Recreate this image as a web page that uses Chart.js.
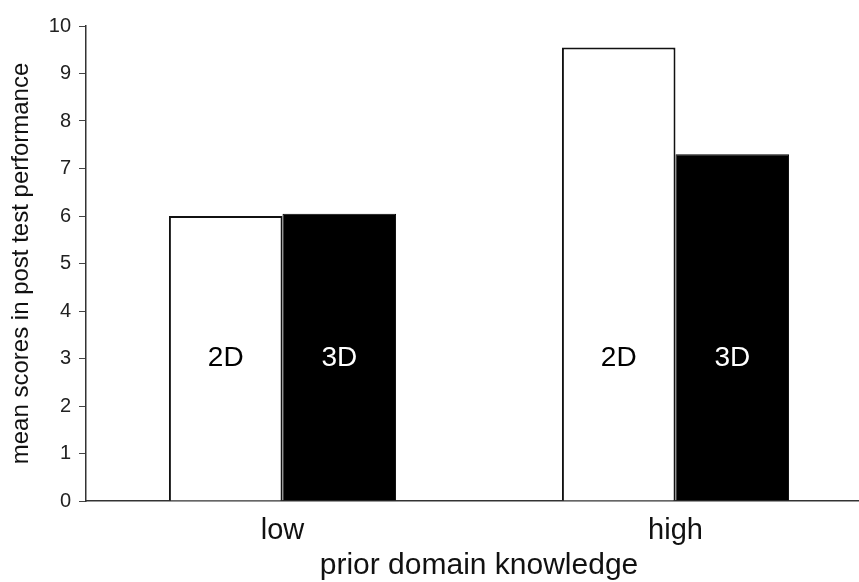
<!DOCTYPE html>
<html>
<head>
<meta charset="utf-8">
<script src="https://cdn.jsdelivr.net/npm/chart.js@4/dist/chart.umd.min.js"></script>
<style>
  html, body { margin: 0; padding: 0; background: #fff; overflow: hidden; }
  #wrap { width: 859px; height: 582px; overflow: hidden; position: relative; }
  #c { position: absolute; left: 0; top: 0; }
</style>
</head>
<body>
<div id="wrap"><canvas id="c" width="872" height="582"></canvas></div>
<script>
const categories = ["low", "high"];
const series2D = [6.0, 9.55];
const series3D = [6.05, 7.3];
const seriesNames = ["2D", "3D"];
const labelAt = 3; // value height where the 2D / 3D text sits
const yTicks = [0, 1, 2, 3, 4, 5, 6, 7, 8, 9, 10];

const font = "'Liberation Sans', Arial, sans-serif";

// writes 2D / 3D inside the bars
const barText = {
  id: "barText",
  afterDatasetsDraw(chart) {
    const ctx = chart.ctx;
    const y = chart.scales.y.getPixelForValue(labelAt);
    ctx.save();
    ctx.font = "28px " + font;
    ctx.textAlign = "center";
    ctx.textBaseline = "middle";
    chart.data.datasets.forEach((ds, i) => {
      chart.getDatasetMeta(i).data.forEach(bar => {
        ctx.fillStyle = i === 0 ? "#000" : "#fff";
        ctx.fillText(ds.label, bar.x, y);
      });
    });
    ctx.restore();
  }
};

new Chart(document.getElementById("c"), {
  type: "bar",
  data: {
    labels: categories,
    datasets: [
      {
        label: seriesNames[0],
        data: series2D,
        backgroundColor: "#fff",
        borderColor: "#111",
        borderWidth: 2,
        categoryPercentage: 0.578,
        barPercentage: 1
      },
      {
        label: seriesNames[1],
        data: series3D,
        backgroundColor: "#000",
        borderColor: "#000",
        borderWidth: 1,
        categoryPercentage: 0.578,
        barPercentage: 1
      }
    ]
  },
  options: {
    responsive: false,
    animation: false,
    layout: { padding: { top: 26, right: 0, left: 0, bottom: 0 } },
    plugins: { legend: { display: false }, tooltip: { enabled: false } },
    scales: {
      x: {
        grid: { display: true, drawOnChartArea: false, drawTicks: false },
        border: { display: true, color: "#333", width: 1.5 },
        ticks: { color: "#111", padding: 13, font: { family: font, size: 29 } },
        title: {
          display: true,
          text: "prior domain knowledge",
          color: "#111",
          font: { family: font, size: 30, lineHeight: 1 },
          padding: { top: 0, bottom: 1 }
        },
        afterFit(scale) { scale.height = 81; }
      },
      y: {
        min: 0,
        max: 10,
        afterBuildTicks(scale) { scale.ticks = yTicks.map(v => ({ value: v })); },
        grid: { display: true, drawOnChartArea: false, drawTicks: true, tickLength: 7, tickColor: "#444" },
        border: { display: true, color: "#333", width: 1.5 },
        ticks: { color: "#222", padding: 8, font: { family: font, size: 20 } },
        title: {
          display: true,
          text: "mean scores in post test performance",
          color: "#111",
          font: { family: font, size: 24, lineHeight: 1 },
          padding: { top: 9, bottom: 0 }
        },
        afterFit(scale) { scale.width = 86; }
      }
    }
  },
  plugins: [barText]
});
</script>
</body>
</html>
